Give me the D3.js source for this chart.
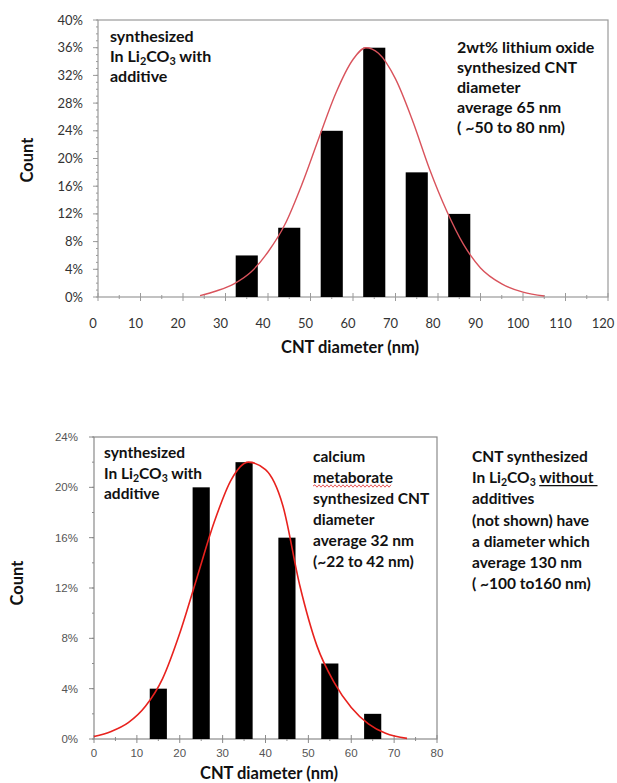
<!DOCTYPE html>
<html>
<head>
<meta charset="utf-8">
<script src="https://cdn.jsdelivr.net/npm/d3@7"></script>
<style>
  body { margin: 0; background: #fff; }
  svg { display: block; }
  .tick-label { font-family: Lato, "Open Sans", sans-serif; fill: #333; }
  .note { font-family: Lato, "Open Sans", sans-serif; font-weight: bold; fill: #111; }
  .axis-title { font-family: Lato, "Open Sans", sans-serif; font-weight: bold; font-size: 16.5px; fill: #111; }
</style>
</head>
<body>
<svg id="chart" width="617" height="783"></svg>
<script>
// top panel: 2wt% lithium oxide
var topBins = [35, 45, 55, 65, 75, 85];
var topCounts = [6, 10, 24, 36, 18, 12];
var topFitX = [24, 28, 32, 36, 40, 44, 48, 52, 56, 60, 63, 66, 70, 74, 78, 82, 86, 90, 95, 100, 105];
var topFitY = [0.2, 0.9, 1.9, 3.6, 6.5, 10.5, 16.3, 23, 29.5, 34.3, 36, 35.2, 31.5, 25.5, 18.5, 12.5, 7.6, 4.2, 1.9, 0.7, 0.15];
var topXTicks = [0, 10, 20, 30, 40, 50, 60, 70, 80, 90, 100, 110, 120];
var topYTicks = [0, 4, 8, 12, 16, 20, 24, 28, 32, 36, 40];

// bottom panel: calcium metaborate
var botBins = [15, 25, 35, 45, 55, 65];
var botCounts = [4, 20, 22, 16, 6, 2];
var botFitX = [0, 4, 8, 12, 16, 20, 24, 28, 32, 36, 40, 44, 48, 52, 56, 60, 64, 68, 73];
var botFitY = [0.2, 0.6, 1.3, 2.6, 4.8, 8.4, 12.8, 17.2, 20.6, 22, 21.4, 18.6, 12.2, 7.4, 4.5, 2.5, 1.2, 0.45, 0.05];
var botXTicks = [0, 10, 20, 30, 40, 50, 60, 70, 80];
var botYTicks = [0, 4, 8, 12, 16, 20, 24];

var svg = d3.select("#chart");

function drawPanel(p) {
  var x = d3.scaleLinear().domain(p.xDomain).range([p.left, p.right]);
  var y = d3.scaleLinear().domain(p.yDomain).range([p.bottom, p.top]);
  var g = svg.append("g");

  // frame
  g.append("rect").attr("x", p.left).attr("y", p.top)
    .attr("width", p.right - p.left).attr("height", p.bottom - p.top)
    .attr("fill", "none").attr("stroke", p.frame).attr("stroke-width", 1.2);

  // y minor + major ticks
  d3.range(p.yDomain[0], p.yDomain[1] + 0.001, p.yMinor).forEach(function(v){
    g.append("line").attr("x1", p.left - 2).attr("x2", p.left)
      .attr("y1", y(v)).attr("y2", y(v)).attr("stroke", p.frame);
  });
  var yTicks = g.selectAll(".yt").data(p.yTicks).enter();
  yTicks.append("line").attr("x1", p.left - 5).attr("x2", p.left)
    .attr("y1", function(d){ return y(d); }).attr("y2", function(d){ return y(d); })
    .attr("stroke", p.frame);
  yTicks.append("text").attr("class", "tick-label")
    .attr("x", p.yLabelX).attr("y", function(d){ return y(d); })
    .attr("dy", "0.35em").attr("text-anchor", "end")
    .style("font-size", p.tickSize + "px").style("font-family", p.tickFont).style("fill", p.tickColor)
    .text(function(d){ return d + "%"; });

  // x minor + major ticks
  d3.range(p.xDomain[0] + 5, p.xDomain[1], 10).forEach(function(v){
    g.append("line").attr("x1", x(v)).attr("x2", x(v))
      .attr("y1", p.bottom - 2).attr("y2", p.bottom + 2).attr("stroke", p.frame);
  });
  var xTicks = g.selectAll(".xt").data(p.xTicks).enter();
  xTicks.append("line").attr("x1", function(d){ return x(d); }).attr("x2", function(d){ return x(d); })
    .attr("y1", p.bottom - 4).attr("y2", p.bottom + 4).attr("stroke", p.frame);
  xTicks.append("text").attr("class", "tick-label")
    .attr("x", function(d){ return x(d) + p.xLabelShift; }).attr("y", p.xLabelY)
    .attr("text-anchor", "middle")
    .style("font-size", p.tickSize + "px").style("font-family", p.tickFont).style("fill", p.tickColor)
    .text(function(d){ return d; });

  // bars
  g.selectAll(".bar").data(p.bins).enter().append("rect")
    .attr("x", function(d){ return x(d - p.barW / 2); })
    .attr("width", function(){ return x(p.barW) - x(0); })
    .attr("y", function(d, i){ return y(p.counts[i]); })
    .attr("height", function(d, i){ return y(0) - y(p.counts[i]); })
    .attr("fill", "#000");

  // fitted curve
  var pts = p.fitX.map(function(d, i){ return [d, p.fitY[i]]; });
  var line = d3.line().x(function(d){ return x(d[0]); }).y(function(d){ return y(d[1]); })
    .curve(d3.curveMonotoneX);
  g.append("path").datum(pts).attr("d", line)
    .attr("fill", "none").attr("stroke", p.curveColor).attr("stroke-width", p.curveWidth);

  // axis titles
  g.append("text").attr("class", "axis-title")
    .attr("transform", "translate(" + p.countX + "," + p.countY + ") rotate(-90)")
    .attr("text-anchor", "middle").text("Count");
  g.append("text").attr("class", "axis-title")
    .attr("x", p.titleX).attr("y", p.titleY).attr("text-anchor", "middle")
    .text("CNT diameter (nm)");
}

// text blocks; "_2" marks a subscript digit
function note(lines, x0, y0, step, size) {
  var nodes = [];
  lines.forEach(function(str, i){
    var t = svg.append("text").attr("class", "note").attr("x", x0).attr("y", y0 + i * step)
      .style("font-size", size + "px");
    str.split(/(_\d)/).forEach(function(part){
      if (!part) return;
      if (part[0] === "_") {
        t.append("tspan").attr("baseline-shift", -3).style("font-size", (size * 0.68) + "px").text(part[1]);
      } else {
        t.append("tspan").text(part);
      }
    });
    nodes.push(t);
  });
  return nodes;
}

drawPanel({
  xDomain: [0, 120], yDomain: [0, 40], left: 98, right: 608, top: 20, bottom: 297,
  frame: "#9a9a9a", yMinor: 1, yTicks: topYTicks, xTicks: topXTicks,
  yLabelX: 83, xLabelY: 328, xLabelShift: -5, tickSize: 13, tickFont: "Lato, sans-serif", tickColor: "#333",
  bins: topBins, counts: topCounts, barW: 5.2,
  fitX: topFitX, fitY: topFitY, curveColor: "#d9535c", curveWidth: 1.4,
  countX: 33, countY: 160, titleX: 350, titleY: 353
});

drawPanel({
  xDomain: [0, 80], yDomain: [0, 24], left: 94, right: 437, top: 437, bottom: 739,
  frame: "#8a8a8a", yMinor: 2, yTicks: botYTicks, xTicks: botXTicks,
  yLabelX: 78, xLabelY: 757, xLabelShift: 0, tickSize: 11.5, tickFont: "'Liberation Sans', sans-serif", tickColor: "#555",
  bins: botBins, counts: botCounts, barW: 4,
  fitX: botFitX, fitY: botFitY, curveColor: "#e8221e", curveWidth: 1.6,
  countX: 23, countY: 583, titleX: 269, titleY: 779
});

note(["synthesized", "In Li_2CO_3 with", "additive"], 110, 42, 20, 16);
note(["2wt% lithium oxide", "synthesized CNT", "diameter", "average 65 nm", "( ~50 to 80 nm)"], 457, 53, 20, 16);
note(["synthesized", "In Li_2CO_3 with", "additive"], 104, 458, 20.5, 15.5);
var calc = note(["calcium", "metaborate", "synthesized CNT", "diameter", "average 32 nm", "(~22 to 42 nm)"], 313, 462, 21, 15.5);
var right = note(["CNT synthesized", "In Li_2CO_3 without ", "additives", "(not shown) have", "a diameter which", "average 130 nm", "( ~100 to160 nm)"], 472, 462, 21.2, 15.5);

// spell-check squiggle under "metaborate"
(function(){
  var t = calc[1], n = t.node();
  var x0 = n.getStartPositionOfChar(0).x, x1 = n.getEndPositionOfChar(9).x;
  var yb = +t.attr("y") + 3, d = "M" + x0 + "," + yb, up = true;
  for (var xx = x0 + 2; xx <= x1; xx += 2) { d += "L" + xx + "," + (yb + (up ? -1.2 : 1.2)); up = !up; }
  svg.append("path").attr("d", d).attr("fill", "none").attr("stroke", "#e03030").attr("stroke-width", 0.8);
})();

// underline under "without "
(function(){
  var t = right[1], n = t.node();
  var s = n.textContent, i = s.indexOf("without");
  var x0 = n.getStartPositionOfChar(i).x, x1 = n.getEndPositionOfChar(i + 6).x + 4;
  var yb = +t.attr("y") + 2.5;
  svg.append("line").attr("x1", x0).attr("x2", x1).attr("y1", yb).attr("y2", yb)
    .attr("stroke", "#111").attr("stroke-width", 1.2);
})();
</script>
</body>
</html>
